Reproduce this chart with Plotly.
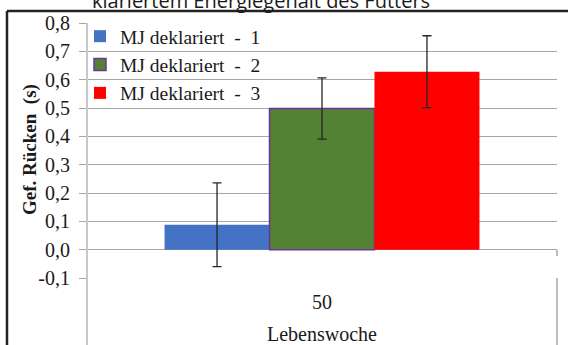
import plotly.graph_objects as go

# ---- data ----
categories = ["50"]
series_names = ["MJ deklariert\u00a0\u00a0-\u00a0\u00a01",
                "MJ deklariert\u00a0\u00a0-\u00a0\u00a02",
                "MJ deklariert\u00a0\u00a0-\u00a0\u00a03"]
values_1 = [0.088]
values_2 = [0.498]
values_3 = [0.628]
errors_1 = [0.148]
errors_2 = [0.108]
errors_3 = [0.127]
tick_vals = [-0.1, 0.0, 0.1, 0.2, 0.3, 0.4, 0.5, 0.6, 0.7, 0.8]
tick_text = ["-0,1", "0,0", "0,1", "0,2", "0,3", "0,4", "0,5", "0,6", "0,7", "0,8"]
title_text = "klariertem Energiegehalt des Futters"
y_title = "Gef. Rücken  (s)"
x_title = "Lebenswoche"

fill_colors = ["#4472c4", "#548235", "#ff0000"]
line_colors = ["#4472c4", "#7030a0", "#ff0000"]

SERIF = "Liberation Serif"
GRID = "#a6a6a6"
TXT = "#1a1a1a"

fig = go.Figure()
for i, (vals, errs) in enumerate([(values_1, errors_1), (values_2, errors_2), (values_3, errors_3)]):
    fig.add_trace(go.Bar(
        x=categories, y=vals, name=series_names[i],
        legendgroup=f"g{i}",
        marker=dict(color=fill_colors[i], line=dict(color=line_colors[i], width=1.5 if i == 1 else 0)),
        error_y=dict(type="data", array=errs, visible=True, color="#262626", thickness=1.3, width=4.5),
    ))

W, H = 568, 345
L, R, T, B = 87, 11, 23, 67
pw, ph = W - L - R, H - T - B


def px(x):
    return (x - L) / pw


def py(y):
    return (H - B - y) / ph


shapes = [
    # white box behind legend (above gridlines, below bars)
    dict(type="rect", xref="paper", yref="paper", x0=px(88.5), x1=px(267), y0=py(110), y1=py(25),
         fillcolor="white", line=dict(width=0), layer="between"),
    # left axis line
    dict(type="line", xref="paper", yref="paper", x0=0, x1=0, y0=1, y1=-0.5,
         line=dict(color="#c8c8c8", width=2)),
    # right category box edge
    dict(type="line", xref="paper", yref="paper", x0=1, x1=1, y0=0, y1=-0.5,
         line=dict(color=GRID, width=1.5)),
    # small tick at right end of 0 line
    dict(type="line", xref="paper", yref="paper", x0=1, x1=1, y0=py(250), y1=py(256),
         line=dict(color=GRID, width=1.5)),
    # outer black frame (top and left edges visible)
    dict(type="line", xref="paper", yref="paper", x0=px(7), x1=px(600), y0=py(11), y1=py(11),
         line=dict(color="#222222", width=2.5)),
    dict(type="line", xref="paper", yref="paper", x0=px(7), x1=px(7), y0=py(11), y1=py(400),
         line=dict(color="#222222", width=2.5)),
]

fig.update_layout(
    width=W, height=H,
    margin=dict(l=L, r=R, t=T, b=B, pad=0, autoexpand=False),
    paper_bgcolor="white", plot_bgcolor="white",
    barmode="group", bargap=0.33, bargroupgap=0,
    showlegend=True,
    legend=dict(x=px(80), y=py(17), xanchor="left", yanchor="top",
                bgcolor="rgba(0,0,0,0)", font=dict(family=SERIF, size=19.5, color=TXT),
                tracegroupgap=0, traceorder="grouped", itemwidth=30),
    xaxis=dict(type="category", range=[-0.5, 0.5], showgrid=False, showline=False, zeroline=False,
               automargin=False,
               ticks="", tickfont=dict(family=SERIF, size=20, color=TXT),
               ticklabelstandoff=10,
               title=dict(text=x_title, font=dict(family=SERIF, size=20, color=TXT), standoff=18)),
    yaxis=dict(range=[-0.1, 0.8], tickvals=tick_vals, ticktext=tick_text,
               automargin=False,
               showgrid=True, gridcolor=GRID, gridwidth=1, zeroline=False, showline=False,
               ticks="outside", ticklen=7, tickcolor=GRID, tickwidth=1,
               ticklabelstandoff=5,
               tickfont=dict(family=SERIF, size=20, color=TXT)),
    shapes=shapes,
    annotations=[
        dict(text=title_text, xref="paper", yref="paper", x=px(261), y=py(0),
             xanchor="center", yanchor="middle", showarrow=False,
             font=dict(family="Open Sans, sans-serif", size=20, color=TXT)),
        dict(text="<b>" + y_title + "</b>", xref="paper", yref="paper", x=px(30), y=py(150),
             xanchor="center", yanchor="middle", showarrow=False, textangle=-90,
             font=dict(family=SERIF, size=19, color=TXT)),
    ],
)

fig.write_html("out.html", post_script="document.body.style.margin='0';",
               config={"displayModeBar": False})
